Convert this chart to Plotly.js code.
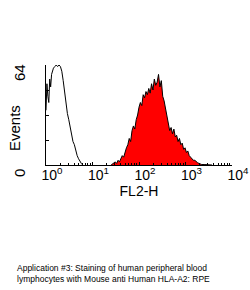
<!DOCTYPE html>
<html>
<head>
<meta charset="utf-8">
<script src="https://cdn.plot.ly/plotly-3.0.1.min.js"></script>
<style>html,body{margin:0;padding:0;background:#fff;}#chart{width:250px;height:290px;}</style>
</head>
<body>
<div id="chart"></div>
<script>
// Control (unstained) histogram: channel position in decades (log10 FL2-H) and event counts
var controlLog = [0.00,0.02,0.04,0.06,0.08,0.10,0.12,0.14,0.16,0.19,0.22,0.25,0.28,0.31,0.34,0.37,0.40,0.43,0.46,0.49,0.52,0.55,0.58,0.61,0.64,0.67,0.70,0.73,0.76,0.79];
var controlCounts = [35,52,44,40,55,50,58,60,62,63,64,63,64,63,60,54,46,39,33,29,24,19,15,13,9,6,4,2,1,0];

// HLA-A2 RPE stained histogram
var stainedLog = [1.40,1.43,1.46,1.49,1.52,1.55,1.58,1.61,1.64,1.67,1.70,1.73,1.76,1.79,1.82,1.85,1.88,1.91,1.94,1.97,2.00,2.03,2.06,2.09,2.12,2.15,2.18,2.21,2.24,2.27,2.30,2.33,2.36,2.39,2.42,2.45,2.48,2.51,2.54,2.57,2.60,2.63,2.66,2.69,2.72,2.75,2.78,2.81,2.84,2.87,2.90,2.93,2.96,2.99,3.02,3.05,3.08,3.11,3.14,3.17,3.20,3.23,3.26,3.29,3.32,3.35,3.40,3.50,3.57];
var stainedCounts = [0,0.5,1,2,1,3,2,4,6,5,9,11,13,17,15,22,25,23,29,32,37,40,38,45,43,47,45,49,46,52,48,55,51,53,58,50,54,44,41,36,31,26,22,24,20,23,18,19,15,17,13,14,10,11,8,9,6,5,4,3,3,2,1.5,1,0.5,0.3,0.3,0.2,0];

var xTickVals = [1,10,100,1000,10000];
var xTickText = ['10<sup>0</sup>','10<sup>1</sup>','10<sup>2</sup>','10<sup>3</sup>','10<sup>4</sup>'];
var yTickVals = [0,16,32,48,64];
var yTickText = ['0','','','','64'];
var xTitle = 'FL2-H';
var yTitle = 'Events';
var caption = 'Application #3: Staining of human peripheral blood<br>lymphocytes with Mouse anti Human HLA-A2: RPE';

function toLinear(arr){ return arr.map(function(v){ return Math.pow(10, v); }); }

var traces = [
  {
    x: toLinear(stainedLog), y: stainedCounts, type: 'scatter', mode: 'lines',
    fill: 'tozeroy', fillcolor: '#ff0000',
    line: {color: '#000', width: 1}, hoverinfo: 'skip'
  },
  {
    x: toLinear(controlLog), y: controlCounts, type: 'scatter', mode: 'lines',
    line: {color: '#000', width: 1}, hoverinfo: 'skip'
  }
];

var layout = {
  width: 250, height: 290,
  margin: {l: 46, r: 18, t: 65, b: 125},
  paper_bgcolor: '#fff', plot_bgcolor: '#fff',
  showlegend: false,
  font: {family: 'Arial, Liberation Sans, sans-serif', color: '#000'},
  xaxis: {
    type: 'log', range: [0, 4],
    tickvals: xTickVals, ticktext: xTickText,
    ticks: 'inside', ticklen: 3, tickcolor: '#000',
    minor: {ticks: 'inside', ticklen: 2, tickcolor: '#000', dtick: 'D1'},
    showline: true, linecolor: '#000', linewidth: 1,
    showgrid: false, zeroline: false,
    tickfont: {size: 14, color: '#000'},
    ticklabelshift: 6,
    ticklabelstandoff: -3,
    title: {text: xTitle, font: {size: 14, color: '#000'}, standoff: 0}
  },
  yaxis: {
    range: [0, 64],
    tickvals: yTickVals, ticktext: yTickText,
    ticks: 'inside', ticklen: 3, tickcolor: '#000',
    tickangle: -90,
    showline: true, linecolor: '#000', linewidth: 1,
    showgrid: false, zeroline: false,
    tickfont: {size: 15, color: '#000'},
    ticklabelshift: 10,
    ticklabelstandoff: 14
  },
  annotations: [
    {
      text: yTitle, xref: 'paper', yref: 'paper',
      x: -0.172, y: 0.37, xanchor: 'center', yanchor: 'middle',
      textangle: -90, showarrow: false,
      font: {size: 15, color: '#000'}
    },
    {
      text: caption, xref: 'paper', yref: 'paper',
      x: -0.167, y: -0.96, xanchor: 'left', yanchor: 'top', align: 'left',
      showarrow: false,
      font: {size: 8.5, color: '#000', family: 'Liberation Sans, Arial, sans-serif'}
    }
  ]
};

Plotly.newPlot('chart', traces, layout, {displayModeBar: false, staticPlot: true});
</script>
</body>
</html>
